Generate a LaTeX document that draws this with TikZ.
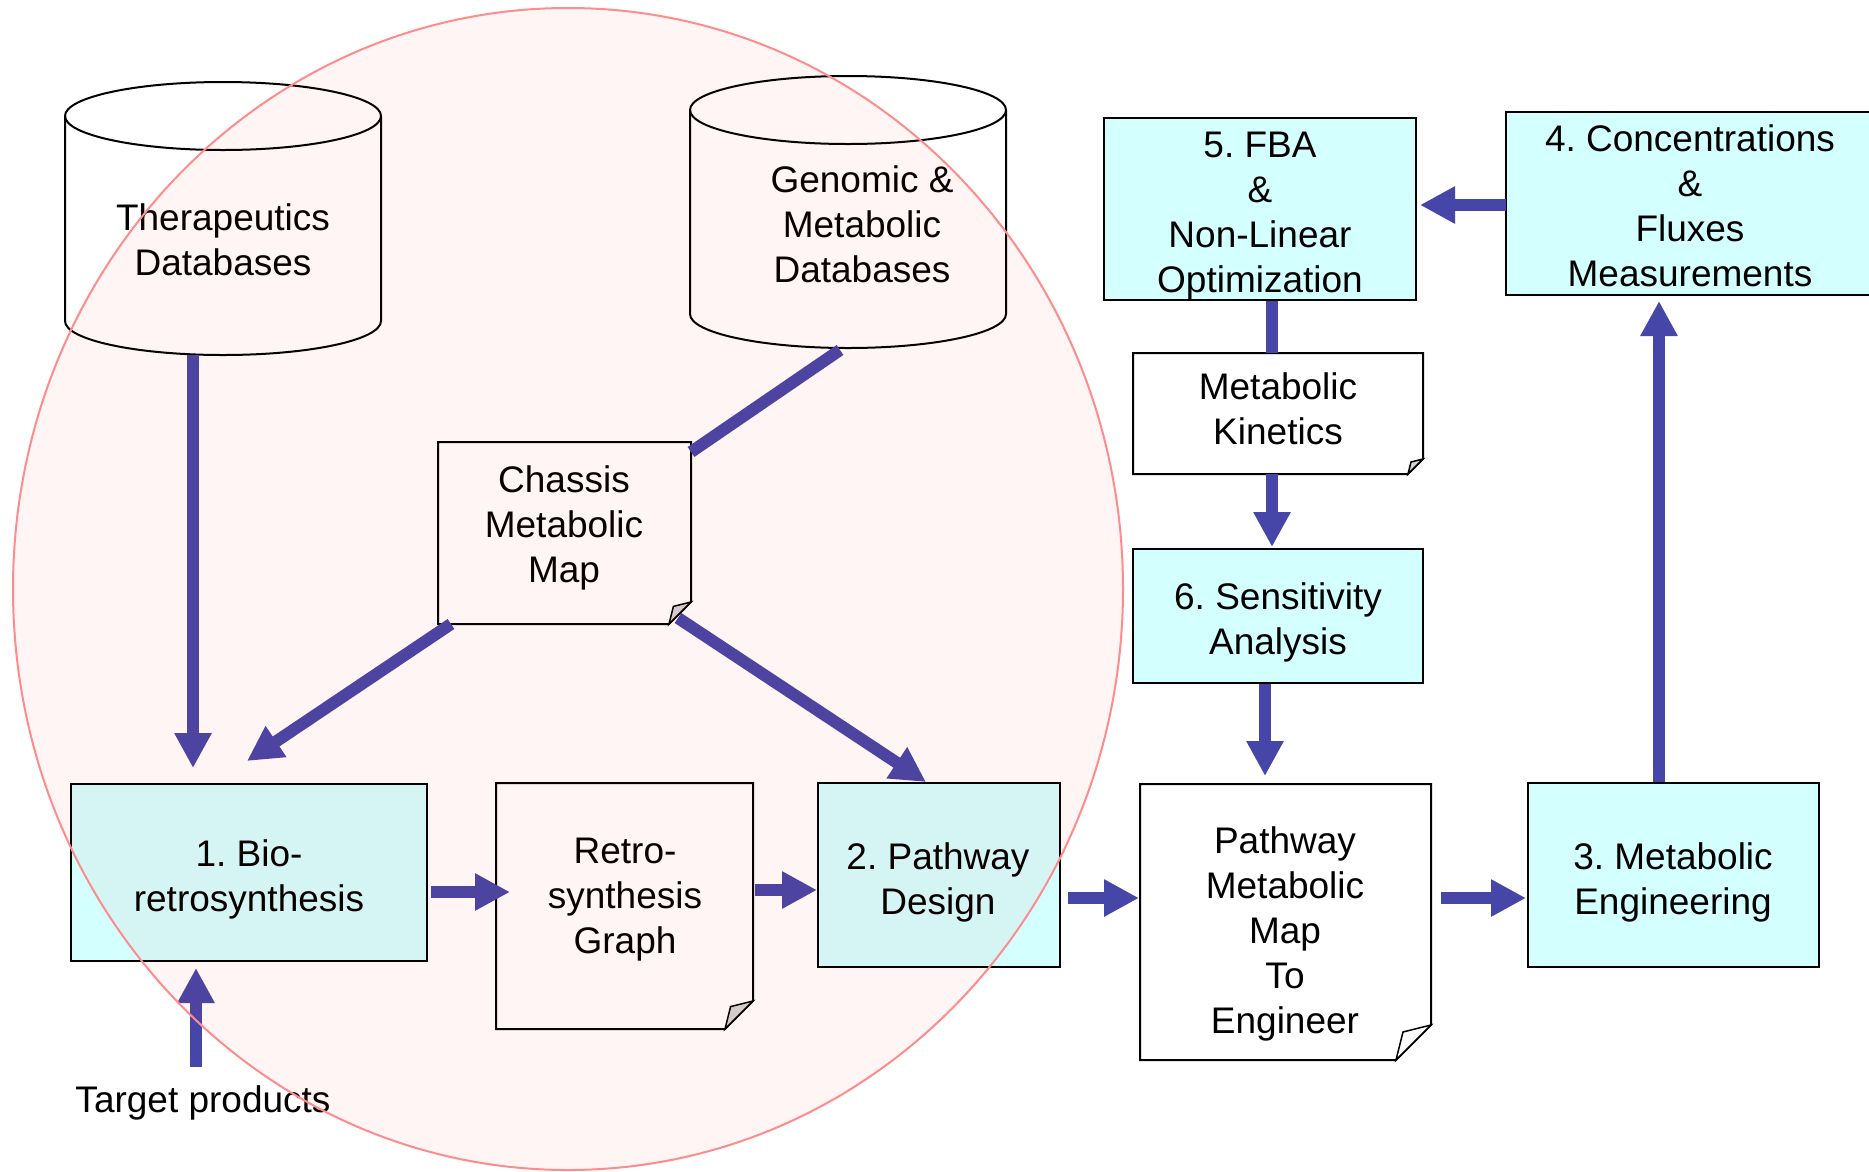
\documentclass[tikz,border=0pt]{standalone}
\usepackage{fontspec}
\setmainfont{Liberation Sans}
\usetikzlibrary{arrows.meta}
\definecolor{arrowblue}{RGB}{70,70,168}
\definecolor{boxcyan}{RGB}{212,255,255}
\definecolor{foldgray}{RGB}{212,212,212}
\definecolor{ellstroke}{RGB}{255,140,140}
\newcommand{\drawnote}[3]{%
  \draw[bline, fill=white] (#1.north west) -- (#1.north east) -- ([yshift=#2]#1.south east) -- ([xshift=-#2]#1.south east) -- (#1.south west) -- cycle;
  \draw[bline, line width=1.5pt, fill=#3] ([xshift=-#2]#1.south east) -- ([xshift=-0.8*#2,yshift=0.8*#2]#1.south east) -- ([yshift=#2]#1.south east) -- cycle;}
\newcommand{\drawcyl}[3]{%
  \draw[bline, fill=white] ([yshift=-#3]#1.north west) -- ([yshift=#3]#1.south west) arc[start angle=180,end angle=360,x radius=#2,y radius=#3] -- ([yshift=-#3]#1.north east) arc[start angle=0,end angle=180,x radius=#2,y radius=#3] -- cycle;
  \draw[bline] ([yshift=-#3]#1.north west) arc[start angle=180,end angle=360,x radius=#2,y radius=#3];}
\begin{document}
\frenchspacing
\begin{tikzpicture}[x=1pt,y=-1pt,
  txt/.style={align=center, font=\fontsize{37}{45}\selectfont\frenchspacing, inner sep=0pt},
  cbox/.style={draw=black, line width=2pt, fill=boxcyan, inner sep=0pt},
  hold/.style={inner sep=0pt, outer sep=0pt},
  bline/.style={draw=black, line width=2pt},
  conn/.style={draw=arrowblue, line width=12pt},
  arr/.style={conn, -{Triangle[width=35pt,length=35pt]}},
]
\useasboundingbox (0,0) rectangle (1869,1171);
\fill[white] (0,0) rectangle (1869,1171);

% shape holders
\node[hold, minimum width=316pt, minimum height=273pt] (ther) at (223,218.5) {};
\node[hold, minimum width=316pt, minimum height=272pt] (gen) at (848,212) {};
\node[hold, minimum width=253pt, minimum height=182pt] (chas) at (564.5,533) {};
\node[hold, minimum width=257pt, minimum height=246pt] (retro) at (624.5,906) {};
\node[hold, minimum width=291pt, minimum height=276pt] (pmm) at (1285.5,922) {};
\node[hold, minimum width=290pt, minimum height=121pt] (mk) at (1278,413.5) {};

\drawcyl{ther}{158pt}{34pt}
\drawcyl{gen}{158pt}{34pt}
\drawnote{chas}{22pt}{foldgray}
\drawnote{retro}{28pt}{foldgray}
\drawnote{pmm}{35pt}{white}
\drawnote{mk}{15pt}{foldgray}

% boxes
\node[cbox, minimum width=356pt, minimum height=177pt] (bio) at (249,872.5) {};
\node[cbox, minimum width=242pt, minimum height=184pt] (pd) at (939,875) {};
\node[cbox, minimum width=291pt, minimum height=184pt] (me) at (1673.5,875) {};
\node[cbox, minimum width=368pt, minimum height=183pt] (conc) at (1690,203.5) {};
\node[cbox, minimum width=312pt, minimum height=182pt] (fba) at (1260,209) {};
\node[cbox, minimum width=290pt, minimum height=134pt] (sa) at (1278,616) {};

% texts
\node[txt] (biot) at (249,879.5) {1. Bio-\\retrosynthesis};
\node[txt] (pdt) at (938,882) {2. Pathway\\Design};
\node[txt] (met) at (1673,882) {3. Metabolic\\Engineering};
\node[txt] (conct) at (1690,205.5) {4. Concentrations\\\&\\Fluxes\\Measurements};
\node[txt] (fbat) at (1260,216) {5. FBA\\\&\\Non-Linear\\Optimization};
\node[txt] (sat) at (1278,622) {6. Sensitivity\\Analysis};
\node[txt] (thert) at (223,239.5) {Therapeutics\\Databases};
\node[txt] (gent) at (862,224) {Genomic \&\\Metabolic\\Databases};
\node[txt] (chast) at (564,528) {Chassis\\Metabolic\\Map};
\node[txt] (retrot) at (625,899.5) {Retro-\\synthesis\\Graph};
\node[txt] (pmmt) at (1285,933.5) {Pathway\\Metabolic\\Map\\To\\Engineer};
\node[txt] (mkt) at (1278,408.5) {Metabolic\\Kinetics};
\node[txt] (tgt) at (203,1103) {Target products};

% connectors
\draw[arr] ([xshift=-30pt]ther.south) -- ([xshift=-56pt,yshift=15pt]bio.north);
\draw[arr] ([xshift=-7pt,yshift=19pt]tgt.north) -- ([xshift=-53pt,yshift=-6pt]bio.south);
\draw[arr] ([xshift=13pt]chas.south west) -- ([xshift=-2pt,yshift=22pt]bio.north);
\draw[arr] ([xshift=-13pt,yshift=6pt]chas.south east) -- ([xshift=-13pt]pd.north);
\draw[conn] ([xshift=-8pt,yshift=-2pt]gen.south) -- ([yshift=-10pt]chas.north east);
\draw[arr] ([xshift=3pt,yshift=-19.5pt]bio.east) -- ([xshift=14pt,yshift=14pt]retro.west);
\draw[arr] ([xshift=2pt,yshift=16pt]retro.east) -- ([yshift=-15pt]pd.west);
\draw[arr] ([xshift=7pt,yshift=-23pt]pd.east) -- ([xshift=-1pt,yshift=24pt]pmm.west);
\draw[arr] ([xshift=10pt,yshift=24pt]pmm.east) -- ([xshift=-1pt,yshift=-23pt]me.west);
\draw[arr] ([xshift=-14.5pt]me.north) -- ([xshift=-31pt,yshift=-5pt]conc.south);
\draw[arr] ([xshift=1pt,yshift=-1.5pt]conc.west) -- ([xshift=3pt,yshift=4pt]fba.east);
\draw[conn] ([xshift=12pt]fba.south) -- ([xshift=-6pt]mk.north);
\draw[arr] ([xshift=-6pt]mk.south) -- ([xshift=-6pt,yshift=1pt]sa.north);
\draw[arr] ([xshift=-13pt]sa.south) -- ([xshift=-20.5pt,yshift=8pt]pmm.north);

% overlay ellipse
\draw[draw=ellstroke, line width=2pt, fill=red, fill opacity=0.04] (568,589) ellipse [x radius=555pt, y radius=581pt];
\end{tikzpicture}
\end{document}
